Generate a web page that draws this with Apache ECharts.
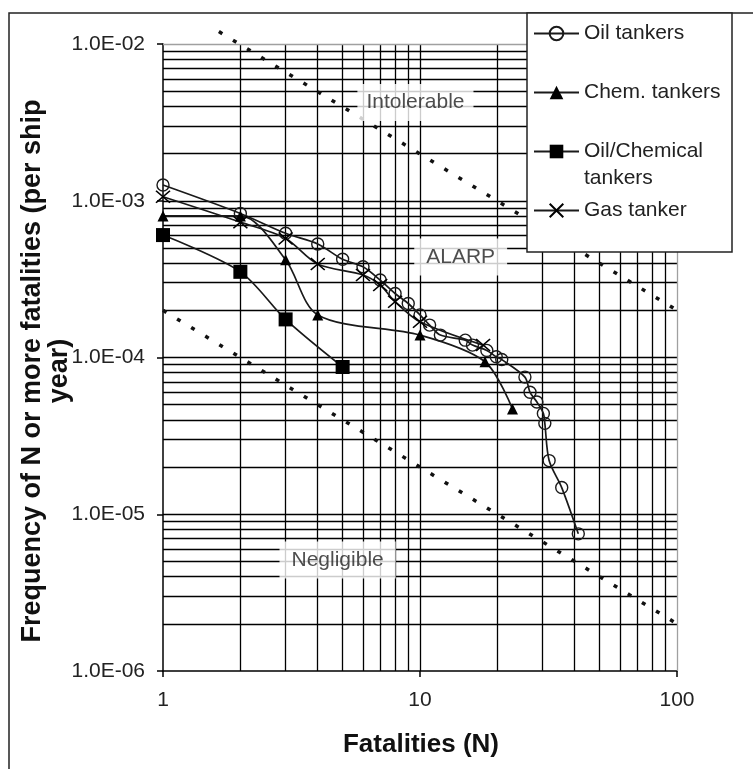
<!DOCTYPE html>
<html><head><meta charset="utf-8">
<script src="https://cdn.jsdelivr.net/npm/echarts@6/dist/echarts.min.js"></script>
<style>html,body{margin:0;padding:0;background:#fff}#c{width:753px;height:769px}</style>
</head><body><div id="c"></div>
<script>
// ---- data ----
const oilN = [1, 2, 3, 4, 5, 6, 7, 8, 9, 10, 10.9, 12, 15, 16, 18.2, 19.8, 20.8, 25.6, 26.8, 28.5, 30.2, 30.6, 31.8, 35.6, 41.3];
const oilF = [1.26e-3, 8.3e-4, 6.2e-4, 5.3e-4, 4.23e-4, 3.79e-4, 3.12e-4, 2.56e-4, 2.21e-4, 1.87e-4, 1.61e-4, 1.39e-4, 1.29e-4, 1.2e-4, 1.11e-4, 1.01e-4, 9.7e-5, 7.5e-5, 6.0e-5, 5.2e-5, 4.4e-5, 3.8e-5, 2.2e-5, 1.48e-5, 7.5e-6];
const chemN = [1, 2, 3, 4, 10, 17.9, 22.9];
const chemF = [8.0e-4, 8.0e-4, 4.2e-4, 1.87e-4, 1.39e-4, 9.4e-5, 4.7e-5];
const ocN = [1, 2, 3, 5];
const ocF = [6.04e-4, 3.52e-4, 1.75e-4, 8.7e-5];
const gasN = [1, 2, 3, 4, 6, 7, 8, 10, 17.6];
const gasF = [1.06e-3, 7.3e-4, 5.75e-4, 3.95e-4, 3.36e-4, 2.9e-4, 2.27e-4, 1.69e-4, 1.2e-4];

const seriesNames = ['Oil tankers', 'Chem. tankers', 'Oil/Chemical tankers', 'Gas tanker'];

// criterion lines (end points)
const intolerableLine = [[1.65, 1.2e-2], [100, 2.0e-4]];
const negligibleLine = [[1, 2.0e-4], [100, 2.0e-6]];

// region labels [N, F]
const regionNames = ['Intolerable', 'ALARP', 'Negligible'];
const regionPos = [[9.6, 4.23e-3], [14.4, 4.38e-4], [4.78, 5.1e-6]];
const regionPad = [[8, 9], [8, 12], [8, 12]];

// axis ticks
const yTicks = [1e-6, 1e-5, 1e-4, 1e-3, 1e-2];
const yTickLabels = ['1.0E-06', '1.0E-05', '1.0E-04', '1.0E-03', '1.0E-02'];
const xTickLabels = ['1', '10', '100'];

// grid lines
const xMin = 1, xMax = 100, yMin = 1e-6, yMax = 1e-2;
const xGrid = [2, 3, 4, 5, 6, 7, 8, 9, 10, 20, 30, 40, 50, 60, 70, 80, 90];
const yMult = [1, 2, 3, 4, 5, 6, 7, 8, 9];
const yDecades = [-6, -5, -4, -3];
const yGrid = [];
yDecades.forEach(e => yMult.forEach(m => { if (!(e === -6 && m === 1)) yGrid.push(Number(m + 'e' + e)); }));

const FONT = 'Liberation Sans, Arial, sans-serif';
const zip = (a, b) => a.map((v, i) => [v, b[i]]);

function yLabel(v) {
  let best = 0, d = 1e9;
  yTicks.forEach((t, i) => { const dd = Math.abs(Math.log10(t) - Math.log10(v)); if (dd < d) { d = dd; best = i; } });
  return yTickLabels[best];
}
function xLabel(v) {
  const i = Math.round(Math.log10(v));
  return xTickLabels[i] || '';
}

const GRAY = { color: '#a0a0a0', width: 1.3, type: 'solid' };
const gridLineData = [
  ...xGrid.map(v => [{ coord: [v, yMin] }, { coord: [v, yMax] }]),
  ...yGrid.map(v => [{ coord: [xMin, v] }, { coord: [xMax, v] }]),
  [{ coord: [xMax, yMin], lineStyle: GRAY }, { coord: [xMax, yMax] }],
  [{ coord: [xMin, yMax], lineStyle: GRAY }, { coord: [xMax, yMax] }]
];

const lineCommon = {
  type: 'line', smooth: 0.3, z: 5, showAllSymbol: true,
  lineStyle: { color: '#1a1a1a', width: 1.7 },
  emphasis: { disabled: true }
};

const DOTS = { color: '#111', width: 3.5, type: [4, 12.5], cap: 'butt' };

const chart = echarts.init(document.getElementById('c'), null, { renderer: 'canvas' });
chart.setOption({
  animation: false,
  backgroundColor: '#fff',
  grid: { left: 163, top: 44, width: 514, height: 627 },
  xAxis: {
    type: 'log', logBase: 10, min: xMin, max: xMax,
    axisLine: { show: true, lineStyle: { color: '#000', width: 1.5 } },
    axisTick: { show: true, length: 6, lineStyle: { color: '#000', width: 1.5 } },
    minorTick: { show: false },
    splitLine: { show: false },
    axisLabel: { fontFamily: FONT, fontSize: 21, color: '#222', margin: 19, formatter: xLabel }
  },
  yAxis: {
    type: 'log', logBase: 10, min: yMin, max: yMax,
    axisLine: { show: true, lineStyle: { color: '#000', width: 1.5 } },
    axisTick: { show: true, length: 6, lineStyle: { color: '#000', width: 1.5 } },
    splitLine: { show: false },
    axisLabel: { fontFamily: FONT, fontSize: 21, color: '#222', margin: 18, formatter: yLabel }
  },
  legend: [
    { data: ['Oil tankers'], left: 533, top: 20 },
    { data: ['Chem. tankers'], left: 533, top: 79 },
    { data: ['Oil/Chemical tankers'], left: 533, top: 111 },
    { data: ['Gas tanker'], left: 533, top: 197 }
  ].map(l => Object.assign(l, {
    orient: 'vertical', itemWidth: 45, itemHeight: 17, z: 60, selectedMode: false, padding: 0,
    textStyle: { fontFamily: FONT, fontSize: 21, color: '#222', lineHeight: 27 },
    formatter: n => n === 'Oil/Chemical tankers' ? ' \nOil/Chemical\ntankers' : n
  })),
  graphic: [
    { type: 'rect', z: -10, silent: true, shape: { x: 9, y: 13, width: 800, height: 800 },
      style: { fill: 'none', stroke: '#222', lineWidth: 1.5 } },
    { type: 'rect', z: 50, silent: true, shape: { x: 527, y: 13, width: 205, height: 239 },
      style: { fill: '#fff', stroke: '#222', lineWidth: 1.5 } },
    { type: 'text', z: 50, silent: true, x: 421, y: 745,
      style: { text: 'Fatalities (N)', font: 'bold 26px ' + FONT, fill: '#111', align: 'center', verticalAlign: 'middle' } },
    { type: 'text', z: 50, silent: true, x: 46, y: 371, rotation: Math.PI / 2,
      style: { text: 'Frequency of N or more fatalities (per ship\nyear)', font: 'bold 27px ' + FONT, lineHeight: 27, fill: '#111', align: 'center', verticalAlign: 'middle' } }
  ],
  series: [
    {
      type: 'line', name: '_grid', data: [], z: 1, silent: true,
      markLine: {
        z: 1, silent: true, symbol: ['none', 'none'], animation: false,
        label: { show: false }, emphasis: { disabled: true },
        lineStyle: { color: '#000', width: 1.3, type: 'solid' },
        data: gridLineData
      }
    },
    {
      type: 'line', name: '_intol', data: intolerableLine, z: 2, symbol: 'none', clip: false, silent: true,
      lineStyle: DOTS
    },
    {
      type: 'line', name: '_negl', data: negligibleLine, z: 2, symbol: 'none', silent: true,
      lineStyle: DOTS
    },
    {
      type: 'scatter', name: '_regions', z: 3, silent: true, symbolSize: 1,
      itemStyle: { color: 'rgba(255,255,255,0)' },
      data: regionPos.map((p, i) => ({ value: p, name: regionNames[i], label: { padding: regionPad[i] } })),
      label: {
        show: true, position: 'inside', formatter: p => p.name,
        fontFamily: FONT, fontSize: 21, color: '#222', backgroundColor: '#fff'
      }
    },
    Object.assign({}, lineCommon, {
      name: seriesNames[0], data: zip(oilN, oilF),
      symbol: 'circle', symbolSize: 12,
      itemStyle: { color: 'rgba(255,255,255,0)', borderColor: '#1a1a1a', borderWidth: 1.4 }
    }),
    Object.assign({}, lineCommon, {
      name: seriesNames[1], data: zip(chemN, chemF),
      symbol: 'triangle', symbolSize: 11,
      itemStyle: { color: '#000' }
    }),
    Object.assign({}, lineCommon, {
      name: seriesNames[2], data: zip(ocN, ocF),
      symbol: 'rect', symbolSize: 14,
      itemStyle: { color: '#000' }
    }),
    Object.assign({}, lineCommon, {
      name: seriesNames[3], data: zip(gasN, gasF),
      symbol: 'path://M0,0L10,10M10,0L0,10', symbolSize: [14, 12],
      itemStyle: { color: 'rgba(0,0,0,0)', borderColor: '#000', borderWidth: 1.5 }
    })
  ]
});
</script>
</body></html>
